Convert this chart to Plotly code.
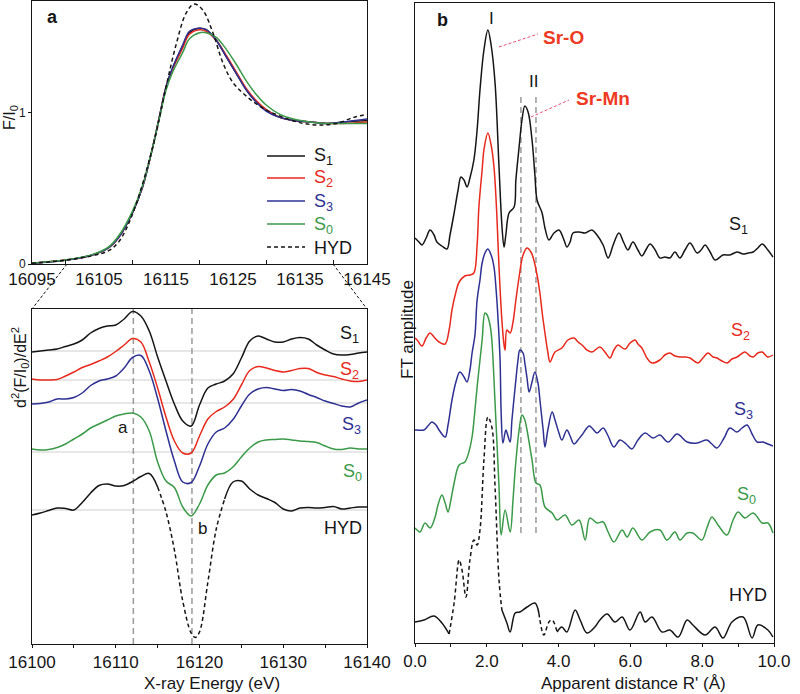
import plotly.graph_objects as go

# ================= DATA =================
# ---- panel a (top): normalised Sr K-edge fluorescence F/I0 ----
e_top = [16095, 16100, 16104, 16106.5, 16108, 16110, 16111.5, 16113, 16114, 16115, 16116,
         16117.5, 16118.5, 16120, 16121, 16122.5, 16124, 16125.5, 16127, 16128.5, 16130,
         16132, 16134, 16136.5, 16139, 16141.5, 16145]
top_s1 = [0.005, 0.026, 0.06, 0.11, 0.18, 0.34, 0.51, 0.77, 0.97, 1.17, 1.30, 1.44, 1.53, 1.56,
          1.55, 1.48, 1.37, 1.26, 1.15, 1.07, 1.02, 0.97, 0.95, 0.94, 0.93, 0.94, 0.95]
top_s2 = [0.005, 0.026, 0.06, 0.11, 0.18, 0.34, 0.51, 0.77, 0.97, 1.17, 1.29, 1.43, 1.52, 1.55,
          1.54, 1.48, 1.38, 1.27, 1.16, 1.08, 1.02, 0.97, 0.95, 0.94, 0.93, 0.93, 0.94]
top_s3 = [0.005, 0.025, 0.06, 0.11, 0.18, 0.34, 0.51, 0.77, 0.97, 1.17, 1.30, 1.45, 1.54, 1.56,
          1.55, 1.48, 1.37, 1.26, 1.15, 1.07, 1.01, 0.97, 0.95, 0.94, 0.93, 0.94, 0.96]
top_s0 = [0.006, 0.027, 0.062, 0.115, 0.19, 0.35, 0.52, 0.77, 0.96, 1.15, 1.27, 1.40, 1.49, 1.53,
          1.53, 1.50, 1.42, 1.32, 1.21, 1.12, 1.05, 0.99, 0.96, 0.94, 0.93, 0.93, 0.93]
e_top_hyd = [16095, 16100, 16104, 16106.5, 16108, 16110, 16113, 16115, 16116.5, 16118, 16119.2,
             16120.5, 16122, 16123.5, 16125, 16127, 16129.5, 16132.5, 16135.5, 16138, 16140.5,
             16143, 16145]
top_hyd = [0.005, 0.025, 0.055, 0.09, 0.15, 0.33, 0.77, 1.17, 1.45, 1.66, 1.72, 1.68, 1.53, 1.33,
           1.20, 1.11, 1.03, 0.97, 0.93, 0.92, 0.93, 0.97, 0.99]
top_ticks = [16095, 16105, 16115, 16125, 16135, 16145]
top_ticktext = ["16095", "16105", "16115", "16125", "16135", "16145"]
top_minor = [16100, 16110, 16120, 16130, 16140]
legend_names = ["S<sub>1</sub>", "S<sub>2</sub>", "S<sub>3</sub>", "S<sub>0</sub>", "HYD"]

# ---- panel a (bottom): second derivative, vertically offset ----
e_d2 = [16100, 16101, 16102, 16103, 16104, 16105, 16106, 16107, 16108, 16109, 16110, 16111,
        16112, 16113, 16114, 16115, 16116, 16117, 16118, 16119, 16120, 16121, 16122, 16123,
        16124, 16125, 16126, 16127, 16128, 16129, 16130, 16131, 16132, 16133, 16134, 16135,
        16136, 16137, 16138, 16139, 16140]
d2_s1 = [2.92, 2.93, 2.94, 2.95, 2.975, 3.00, 3.04, 3.11, 3.155, 3.18, 3.19, 3.25, 3.325, 3.28,
         3.13, 2.87, 2.63, 2.40, 2.23, 2.18, 2.39, 2.56, 2.60, 2.63, 2.70, 2.86, 3.03, 3.08, 3.05,
         3.02, 3.02, 3.05, 3.065, 3.05, 2.99, 2.94, 2.90, 2.89, 2.895, 2.91, 2.92]
d2_s2 = [2.65, 2.64, 2.64, 2.645, 2.68, 2.72, 2.765, 2.795, 2.83, 2.87, 2.925, 2.99, 3.055, 3.02,
         2.82, 2.56, 2.27, 2.03, 1.91, 1.91, 2.08, 2.25, 2.325, 2.37, 2.445, 2.59, 2.735, 2.775,
         2.76, 2.735, 2.72, 2.735, 2.755, 2.755, 2.715, 2.69, 2.675, 2.65, 2.63, 2.625, 2.64]
d2_s3 = [2.40, 2.405, 2.42, 2.45, 2.45, 2.465, 2.51, 2.585, 2.63, 2.65, 2.68, 2.76, 2.865, 2.885,
         2.73, 2.455, 2.13, 1.83, 1.62, 1.615, 1.78, 2.00, 2.12, 2.16, 2.245, 2.38, 2.50, 2.55,
         2.565, 2.55, 2.535, 2.545, 2.53, 2.495, 2.465, 2.43, 2.405, 2.38, 2.37, 2.41, 2.44]
d2_s0 = [1.95, 1.94, 1.945, 1.965, 2.00, 2.05, 2.10, 2.16, 2.20, 2.24, 2.28, 2.30, 2.31, 2.27,
         2.13, 1.82, 1.63, 1.565, 1.37, 1.28, 1.40, 1.59, 1.69, 1.71, 1.77, 1.87, 1.96, 2.02, 2.04,
         2.045, 2.05, 2.04, 2.03, 2.025, 2.015, 1.98, 1.95, 1.945, 1.96, 1.95, 1.95]
e_d2_hyd = [16100, 16101, 16102, 16103, 16104, 16105, 16106, 16107, 16108, 16109, 16110, 16111,
            16112, 16113, 16114, 16115, 16116, 16117, 16118, 16119, 16119.5, 16120, 16121, 16122,
            16123, 16124, 16125, 16126, 16127, 16128, 16129, 16130, 16131, 16132, 16133, 16134,
            16135, 16136, 16137, 16138, 16139, 16140]
d2_hyd = [1.29, 1.31, 1.335, 1.36, 1.355, 1.34, 1.415, 1.51, 1.585, 1.60, 1.58, 1.585, 1.625,
          1.675, 1.705, 1.57, 1.32, 0.94, 0.43, 0.11, 0.065, 0.12, 0.62, 1.15, 1.45, 1.62, 1.63,
          1.55, 1.49, 1.455, 1.415, 1.35, 1.33, 1.36, 1.365, 1.36, 1.365, 1.375, 1.35, 1.36, 1.37,
          1.37]
d2_baselines = [2.93, 2.64, 2.41, 1.92, 1.34]
d2_marks = [16112.1, 16119.1]
d2_ticks = [16100, 16110, 16120, 16130, 16140]
d2_ticktext = ["16100", "16110", "16120", "16130", "16140"]

# ---- panel b: Fourier transforms (offset) ----
r_s1 = [0, 0.11, 0.195, 0.31, 0.42, 0.53, 0.61, 0.75, 0.89, 0.975, 1.09, 1.20, 1.28, 1.365, 1.45,
        1.53, 1.64, 1.73, 1.81, 1.92, 2.03, 2.12, 2.23, 2.34, 2.42, 2.48, 2.53, 2.62, 2.76, 2.81,
        2.90, 2.98, 3.06, 3.15, 3.26, 3.34, 3.40, 3.54, 3.62, 3.73, 3.87, 4.01, 4.15, 4.23, 4.32,
        4.40, 4.57, 4.74, 4.93, 5.07, 5.24, 5.38, 5.52, 5.68, 5.82, 5.93, 6.07, 6.21, 6.32, 6.43,
        6.55, 6.69, 6.82, 6.96, 7.10, 7.24, 7.38, 7.52, 7.66, 7.86, 7.97, 8.08, 8.22, 8.36, 8.58,
        8.77, 8.97, 9.14, 9.28, 9.42, 9.55, 9.67, 9.83, 9.97]
ft_s1 = [4.05, 4.01, 3.98, 4.05, 4.13, 4.08, 4.01, 3.97, 3.94, 4.08, 4.30, 4.53, 4.66, 4.63, 4.56,
         4.65, 4.83, 5.13, 5.53, 5.93, 6.13, 5.98, 5.60, 4.76, 4.18, 3.96, 4.08, 4.30, 4.36, 4.63,
         4.96, 5.23, 5.37, 5.31, 5.03, 4.68, 4.43, 4.30, 4.15, 4.03, 4.10, 4.13, 4.03, 3.96, 4.01,
         4.10, 4.11, 4.10, 4.13, 4.08, 3.98, 3.85, 3.98, 4.10, 4.00, 3.93, 4.01, 3.93, 3.87, 3.93,
         3.99, 3.93, 3.85, 3.86, 3.85, 3.91, 3.85, 3.93, 4.00, 3.90, 3.93, 3.98, 3.91, 3.83, 3.88,
         3.88, 3.91, 3.89, 3.90, 3.91, 3.95, 3.99, 3.93, 3.86]
r_s2 = [0, 0.06, 0.195, 0.31, 0.42, 0.53, 0.67, 0.84, 0.95, 1.03, 1.14, 1.23, 1.39, 1.53, 1.64,
        1.73, 1.78, 1.87, 1.92, 2.03, 2.12, 2.20, 2.28, 2.34, 2.42, 2.48, 2.51, 2.56, 2.65, 2.73,
        2.81, 2.90, 3.01, 3.12, 3.23, 3.31, 3.40, 3.48, 3.54, 3.62, 3.70, 3.76, 3.90, 4.09, 4.26,
        4.43, 4.54, 4.65, 4.79, 4.93, 5.15, 5.29, 5.43, 5.54, 5.65, 5.85, 5.99, 6.13, 6.21, 6.32,
        6.46, 6.60, 6.82, 6.96, 7.10, 7.24, 7.38, 7.52, 7.66, 7.88, 8.02, 8.16, 8.30, 8.41, 8.55,
        8.69, 8.83, 8.97, 9.19, 9.33, 9.42, 9.55, 9.67, 9.83, 9.97]
ft_s2 = [3.05, 3.03, 2.97, 3.05, 3.10, 3.06, 3.01, 2.99, 3.13, 3.33, 3.51, 3.61, 3.67, 3.68, 3.70,
         3.98, 4.36, 4.73, 4.93, 5.10, 4.98, 4.76, 4.28, 3.76, 3.23, 2.98, 2.93, 3.13, 3.10, 3.21,
         3.43, 3.66, 3.88, 3.95, 3.91, 3.83, 3.68, 3.50, 3.31, 3.10, 2.91, 2.81, 2.91, 2.95, 3.03,
         3.05, 3.01, 2.98, 2.93, 2.91, 2.96, 2.91, 2.85, 2.93, 2.98, 2.94, 3.00, 3.03, 2.99, 2.95,
         2.85, 2.80, 2.83, 2.88, 2.90, 2.87, 2.86, 2.86, 2.85, 2.80, 2.85, 2.90, 2.86, 2.85, 2.82,
         2.80, 2.84, 2.86, 2.91, 2.87, 2.86, 2.90, 2.91, 2.86, 2.88]
r_s3 = [0, 0.06, 0.25, 0.36, 0.47, 0.585, 0.67, 0.84, 0.92, 1.03, 1.14, 1.25, 1.365, 1.45, 1.53,
        1.59, 1.67, 1.73, 1.81, 1.87, 1.95, 2.03, 2.12, 2.20, 2.26, 2.31, 2.37, 2.40, 2.45, 2.53,
        2.59, 2.65, 2.70, 2.79, 2.87, 2.92, 3.01, 3.06, 3.12, 3.18, 3.26, 3.34, 3.43, 3.48, 3.57,
        3.62, 3.70, 3.82, 3.90, 4.01, 4.09, 4.23, 4.32, 4.43, 4.54, 4.65, 4.85, 4.93, 5.07, 5.24,
        5.38, 5.54, 5.71, 5.88, 6.04, 6.21, 6.41, 6.63, 6.82, 7.05, 7.30, 7.58, 7.86, 8.13, 8.27,
        8.41, 8.61, 8.77, 8.97, 9.11, 9.25, 9.39, 9.53, 9.69, 9.83, 9.97]
ft_s3 = [2.13, 2.13, 2.13, 2.17, 2.21, 2.18, 2.13, 2.06, 2.18, 2.43, 2.61, 2.71, 2.66, 2.61, 2.73,
         2.90, 3.08, 3.43, 3.63, 3.80, 3.90, 3.94, 3.88, 3.76, 3.53, 3.26, 2.83, 2.30, 2.00, 2.13,
         2.07, 2.01, 2.23, 2.56, 2.83, 2.93, 2.90, 2.80, 2.65, 2.51, 2.61, 2.71, 2.59, 2.43, 2.13,
         1.96, 2.13, 2.31, 2.23, 2.10, 2.03, 2.13, 2.07, 1.99, 2.03, 2.08, 2.17, 2.15, 2.10, 2.15,
         2.07, 1.96, 2.03, 1.99, 1.94, 2.03, 2.10, 2.05, 2.08, 2.01, 2.09, 2.01, 2.00, 2.03, 1.99,
         1.95, 2.05, 2.15, 2.11, 2.15, 2.18, 2.09, 2.01, 2.01, 1.99, 1.97]
r_s0 = [0, 0.06, 0.14, 0.28, 0.42, 0.56, 0.64, 0.75, 0.84, 0.92, 1.00, 1.09, 1.23, 1.39, 1.50,
        1.59, 1.67, 1.73, 1.81, 1.87, 1.95, 2.01, 2.09, 2.14, 2.23, 2.34, 2.40, 2.51, 2.65, 2.73,
        2.79, 2.90, 2.98, 3.06, 3.12, 3.26, 3.37, 3.48, 3.62, 3.82, 3.96, 4.18, 4.37, 4.57, 4.74,
        4.87, 5.07, 5.24, 5.38, 5.54, 5.77, 5.91, 6.07, 6.32, 6.55, 6.82, 7.02, 7.24, 7.38, 7.58,
        7.74, 7.99, 8.13, 8.27, 8.44, 8.69, 8.86, 9.00, 9.19, 9.42, 9.67, 9.83, 9.97]
ft_s0 = [1.15, 1.13, 1.11, 1.20, 1.15, 1.26, 1.38, 1.48, 1.40, 1.31, 1.43, 1.60, 1.78, 1.81, 1.91,
         2.06, 2.33, 2.56, 2.83, 3.03, 3.30, 3.28, 3.18, 3.03, 2.40, 1.56, 1.08, 1.33, 1.11, 1.43,
         1.73, 2.13, 2.28, 2.23, 2.13, 1.83, 1.60, 1.58, 1.36, 1.30, 1.23, 1.28, 1.18, 1.23, 1.03,
         1.25, 1.20, 1.21, 1.11, 1.01, 1.13, 1.06, 1.15, 1.03, 1.11, 1.13, 1.03, 1.11, 1.03, 1.10,
         1.10, 1.03, 1.15, 1.26, 1.18, 1.08, 1.23, 1.31, 1.25, 1.30, 1.20, 1.20, 1.10]
r_hyd = [0, 0.25, 0.53, 0.75, 0.95, 1.09, 1.23, 1.31, 1.42, 1.53, 1.64, 1.73, 1.81, 1.92, 2.03,
         2.14, 2.23, 2.34, 2.42, 2.56, 2.65, 2.79, 2.92, 3.12, 3.34, 3.45, 3.59, 3.73, 3.82, 3.96,
         4.09, 4.23, 4.46, 4.60, 4.79, 5.01, 5.15, 5.35, 5.57, 5.77, 5.99, 6.27, 6.41, 6.60, 6.88,
         7.10, 7.33, 7.58, 7.74, 8.08, 8.36, 8.58, 8.83, 9.14, 9.39, 9.55, 9.83, 9.97]
ft_hyd = [0.21, 0.23, 0.27, 0.20, 0.09, 0.40, 0.83, 0.73, 0.46, 0.83, 1.03, 0.98, 1.13, 1.83, 2.26,
          2.16, 1.56, 0.63, 0.33, 0.20, 0.11, 0.30, 0.31, 0.36, 0.40, 0.30, 0.08, 0.21, 0.23, 0.11,
          0.16, 0.11, 0.33, 0.23, 0.10, 0.16, 0.23, 0.29, 0.21, 0.26, 0.13, 0.31, 0.21, 0.26, 0.11,
          0.13, 0.06, 0.23, 0.18, 0.08, 0.16, 0.05, 0.21, 0.26, 0.05, 0.18, 0.13, 0.06]
ft_marks = [2.95, 3.37]
ft_ticks = [0, 2, 4, 6, 8, 10]
ft_ticktext = ["0.0", "2.0", "4.0", "6.0", "8.0", "10.0"]

# ================= STYLE =================
W, H = 800, 694
BLACK, RED, BLUE, GREEN = "#151515", "#e8291c", "#2e3192", "#3a9a48"
LBL_RED = "#ee3a22"
FONT = "Liberation Sans, Arial, Helvetica, sans-serif"
DASH = "4px,3px"


def px(x):
    return x / W


def py(y):
    return 1 - y / H


fig = go.Figure()
LW = 1.5

# ---- top panel traces ----
top_series = [(top_s1, BLACK), (top_s2, RED), (top_s3, BLUE), (top_s0, GREEN)]
for (yv, col), name in zip(top_series, legend_names):
    fig.add_trace(go.Scatter(x=e_top, y=yv, mode="lines", line=dict(color=col, width=LW, shape="spline"),
                             name=name, showlegend=False, xaxis="x", yaxis="y"))
fig.add_trace(go.Scatter(x=e_top_hyd, y=top_hyd, mode="lines",
                         line=dict(color=BLACK, width=LW, dash=DASH, shape="spline"),
                         name="HYD", showlegend=False, xaxis="x", yaxis="y"))

# ---- bottom-left traces ----
for yv, col in [(d2_s1, BLACK), (d2_s2, RED), (d2_s3, BLUE), (d2_s0, GREEN)]:
    fig.add_trace(go.Scatter(x=e_d2, y=yv, mode="lines", line=dict(color=col, width=LW, shape="spline"),
                             showlegend=False, xaxis="x2", yaxis="y2"))


def seg_traces(xs, ys, pieces, xa, ya):
    for a, b, dashed in pieces:
        fig.add_trace(go.Scatter(x=xs[a:b + 1], y=ys[a:b + 1], mode="lines",
                                 line=dict(color=BLACK, width=LW, shape="spline",
                                           dash=DASH if dashed else "solid"),
                                 showlegend=False, xaxis=xa, yaxis=ya))


n_h2 = len(e_d2_hyd) - 1
seg_traces(e_d2_hyd, d2_hyd, [(0, 15, False), (15, 24, True), (24, n_h2, False)], "x2", "y2")

# ---- right panel traces ----
for xs, yv, col in [(r_s1, ft_s1, BLACK), (r_s2, ft_s2, RED), (r_s3, ft_s3, BLUE), (r_s0, ft_s0, GREEN)]:
    fig.add_trace(go.Scatter(x=xs, y=yv, mode="lines", line=dict(color=col, width=LW, shape="spline"),
                             showlegend=False, xaxis="x3", yaxis="y3"))
n_h3 = len(r_hyd) - 1
seg_traces(r_hyd, ft_hyd, [(0, 4, False), (4, 18, True), (18, 25, False), (25, 29, True), (29, n_h3, False)],
           "x3", "y3")

# ================= SHAPES =================
shapes = []
for b in d2_baselines:
    shapes.append(dict(type="line", xref="x2 domain", yref="y2", x0=0, x1=1, y0=b, y1=b,
                       line=dict(color="#cfcfcf", width=1), layer="below"))
for m in d2_marks:
    shapes.append(dict(type="line", xref="x2", yref="y2 domain", x0=m, x1=m, y0=0, y1=1,
                       line=dict(color="#9a9a9a", width=1.5, dash="6px,4px"), layer="below"))
for m in ft_marks:
    shapes.append(dict(type="line", xref="x3", yref="y3", x0=m, x1=m, y0=1.10, y1=5.46,
                       line=dict(color="#9a9a9a", width=1.5, dash="6px,4px"), layer="below"))
# zoom connectors
shapes.append(dict(type="line", xref="paper", yref="paper", x0=px(67), y0=py(264), x1=px(32), y1=py(309),
                   line=dict(color=BLACK, width=1, dash="3px,2px")))
shapes.append(dict(type="line", xref="paper", yref="paper", x0=px(333), y0=py(264), x1=px(367), y1=py(309),
                   line=dict(color=BLACK, width=1, dash="3px,2px")))
# leader lines
shapes.append(dict(type="line", xref="paper", yref="paper", x0=px(499), y0=py(47), x1=px(538), y1=py(34),
                   line=dict(color="#e8507a", width=1, dash="3px,2px")))
shapes.append(dict(type="line", xref="paper", yref="paper", x0=px(531), y0=py(117), x1=px(569), y1=py(100),
                   line=dict(color="#e8507a", width=1, dash="3px,2px")))

# ================= ANNOTATIONS =================
ann = []


def text(x, y, t, size=18, color=BLACK, bold=False, angle=0, xanchor="center"):
    if bold:
        t = f"<b>{t}</b>"
    ann.append(dict(x=px(x), y=py(y), xref="paper", yref="paper", text=t, showarrow=False,
                    font=dict(size=size, color=color, family=FONT), textangle=angle,
                    xanchor=xanchor, yanchor="middle"))


# legend of panel a (top)
leg_cols = [BLACK, RED, BLUE, GREEN, BLACK]
leg_rows = [156, 178, 201, 224, 247]
for i, (name, col, yy) in enumerate(zip(legend_names, leg_cols, leg_rows)):
    shapes.append(dict(type="line", xref="paper", yref="paper", x0=px(267), x1=px(305), y0=py(yy), y1=py(yy),
                       line=dict(color=col, width=LW, dash=DASH if i == 4 else "solid")))
    text(312, yy + 1, name, 18, col, xanchor="left")

text(52, 17, "a", 18, bold=True)
text(442, 20, "b", 18, bold=True)
text(11, 118, "F/I<sub>0</sub>", 16, angle=-90)
text(20, 368, "d<sup>2</sup>(F/I<sub>0</sub>)/dE<sup>2</sup>", 16, angle=-90)
text(407, 330, "FT amplitude", 17, angle=-90)
text(212, 683, "X-ray Energy (eV)", 17)
text(633, 683, "Apparent distance R' (Å)", 17)
# derivative panel labels
text(349, 335, "S<sub>1</sub>", 18, BLACK)
text(349, 370, "S<sub>2</sub>", 18, RED)
text(351, 425, "S<sub>3</sub>", 18, BLUE)
text(352, 472, "S<sub>0</sub>", 18, GREEN)
text(343, 528, "HYD", 18, BLACK)
text(123, 427, "a", 17)
text(202, 528, "b", 17)
# FT panel labels
text(738, 225, "S<sub>1</sub>", 18, BLACK)
text(740, 331, "S<sub>2</sub>", 18, RED)
text(743, 410, "S<sub>3</sub>", 18, BLUE)
text(746, 495, "S<sub>0</sub>", 18, GREEN)
text(748, 595, "HYD", 18, BLACK)
text(491, 18, "I", 17)
text(533, 82, "II", 17)
text(563, 38, "Sr-O", 19, LBL_RED, bold=True)
text(603, 98, "Sr-Mn", 19, LBL_RED, bold=True)

axis_common = dict(showline=True, linecolor=BLACK, linewidth=1, mirror=True, showgrid=False,
                   zeroline=False, tickcolor=BLACK, automargin=False, tickangle=0, fixedrange=True,
                   tickfont=dict(size=17, family=FONT, color=BLACK))

fig.update_layout(
    width=W, height=H, margin=dict(l=0, r=0, t=0, b=0, autoexpand=False),
    plot_bgcolor="white", paper_bgcolor="white", showlegend=False, hovermode=False,
    font=dict(family=FONT, size=17, color=BLACK),
    xaxis=dict(domain=[px(32), px(367)], range=[16095, 16145], anchor="y", tickmode="array",
               tickvals=top_ticks, ticktext=top_ticktext, ticks="",
               minor=dict(tickmode="array", tickvals=top_minor, ticks="inside", ticklen=4, tickcolor=BLACK),
               **axis_common),
    yaxis=dict(domain=[py(264), py(1)], range=[0, 1.74], anchor="x", tickmode="array", tickvals=[0, 1],
               ticktext=["0", "1"], ticks="outside", ticklen=3,
               **{**axis_common, "tickfont": dict(size=12, family=FONT, color=BLACK)}),
    xaxis2=dict(domain=[px(32), px(367)], range=[16100, 16140], anchor="y2", tickmode="array",
                tickvals=d2_ticks, ticktext=d2_ticktext, ticks="outside", ticklen=3,
                minor=dict(dtick=5, ticks="outside", ticklen=3, tickcolor=BLACK), **axis_common),
    yaxis2=dict(domain=[py(644), py(309)], range=[0, 3.35], anchor="x2", showticklabels=False, ticks="",
                **axis_common),
    xaxis3=dict(domain=[px(415), px(774)], range=[0, 10], anchor="y3", tickmode="array",
                tickvals=ft_ticks, ticktext=ft_ticktext, ticks="outside", ticklen=3,
                minor=dict(dtick=1, ticks="outside", ticklen=3, tickcolor=BLACK), **axis_common),
    yaxis3=dict(domain=[py(643), py(3)], range=[0, 6.40], anchor="x3", showticklabels=False, ticks="",
                **axis_common),
    shapes=shapes, annotations=ann,
)

fig.write_html("out.html", config={"displayModeBar": False, "staticPlot": True},
               post_script="document.body.style.margin='0';document.body.style.overflow='hidden';")
